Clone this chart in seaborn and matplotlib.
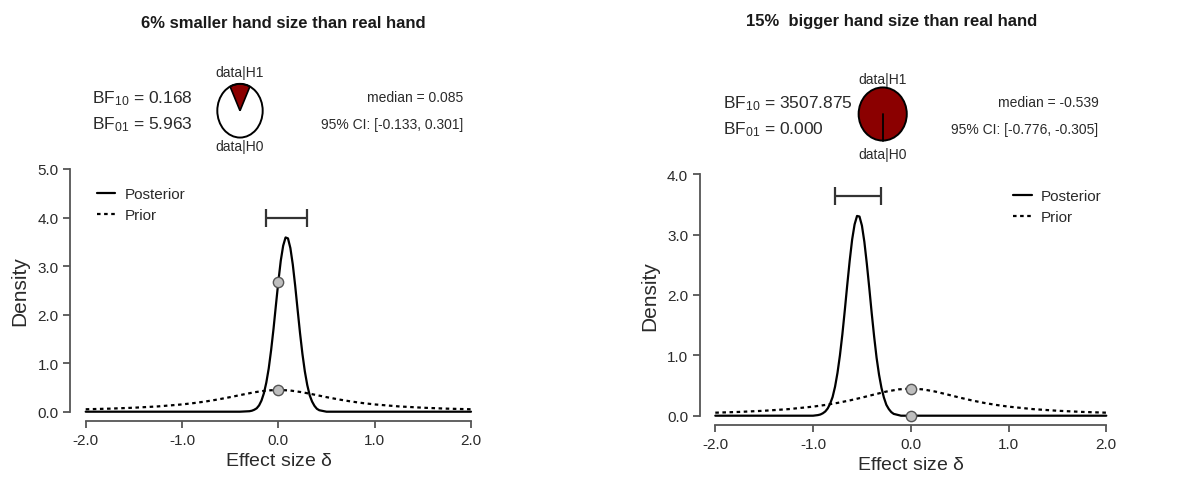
import numpy as np
import pandas as pd
import matplotlib
matplotlib.use("Agg")
import matplotlib.pyplot as plt
import seaborn as sns
from matplotlib.patches import Wedge, Ellipse

# ---------------- data ----------------
titles = ["6% smaller hand size than real hand", "15%  bigger hand size than real hand"]

# prior (same in both panels)
prior_x = [-2.0, -1.75, -1.5, -1.25, -1.0, -0.875, -0.75, -0.625, -0.5, -0.375, -0.25, -0.125,
           0.0, 0.125, 0.25, 0.375, 0.5, 0.625, 0.75, 0.875, 1.0, 1.25, 1.5, 1.75, 2.0]
prior_y = [0.050, 0.063, 0.082, 0.109, 0.150, 0.178, 0.212, 0.253, 0.300, 0.351, 0.400, 0.436,
           0.450, 0.436, 0.400, 0.351, 0.300, 0.253, 0.212, 0.178, 0.150, 0.109, 0.082, 0.063, 0.050]

# panel 1 posterior
post1_x = [-2.0, -0.4, -0.3, -0.275, -0.25, -0.225, -0.2, -0.175, -0.15, -0.125, -0.1, -0.075,
           -0.05, -0.025, 0.0, 0.025, 0.05, 0.075, 0.1, 0.125, 0.15, 0.175, 0.2, 0.225, 0.25,
           0.275, 0.3, 0.325, 0.35, 0.375, 0.4, 0.425, 0.45, 0.5, 0.6, 2.0]
post1_y = [0.0, 0.0, 0.01, 0.02, 0.04, 0.07, 0.13, 0.23, 0.38, 0.60, 0.89, 1.27,
           1.71, 2.20, 2.68, 3.11, 3.42, 3.59, 3.57, 3.37, 3.03, 2.59, 2.10, 1.62, 1.19,
           0.83, 0.55, 0.34, 0.21, 0.12, 0.06, 0.03, 0.02, 0.0, 0.0, 0.0]

# panel 2 posterior
post2_x = [-2.0, -1.0, -0.95, -0.925, -0.9, -0.875, -0.85, -0.825, -0.8, -0.775, -0.75, -0.725,
           -0.7, -0.675, -0.65, -0.625, -0.6, -0.575, -0.55, -0.525, -0.5, -0.475, -0.45,
           -0.425, -0.4, -0.375, -0.35, -0.325, -0.3, -0.275, -0.25, -0.225, -0.2, -0.175,
           -0.15, -0.1, 0.0, 2.0]
post2_y = [0.0, 0.0, 0.01, 0.02, 0.04, 0.07, 0.12, 0.20, 0.31, 0.48, 0.71, 1.00,
           1.35, 1.75, 2.17, 2.57, 2.92, 3.17, 3.31, 3.30, 3.15, 2.88, 2.52,
           2.12, 1.70, 1.31, 0.96, 0.68, 0.46, 0.30, 0.18, 0.11, 0.06, 0.03,
           0.02, 0.0, 0.0, 0.0]

bf10 = ["0.168", "3507.875"]
bf01 = ["5.963", "0.000"]
pie_h1 = [0.168 / 1.168, 1.0]
medians = ["0.085", "-0.539"]
ci_text = ["[-0.133, 0.301]", "[-0.776, -0.305]"]
ci_lo = [-0.133, -0.776]
ci_hi = [0.301, -0.305]
ci_y = [4.0, 3.64]
pt1_x = [0.0, 0.0]
pt1_y = [2.68, 0.45]
pt2_x = [0.0, 0.0]
pt2_y = [0.45, 0.0]
y_max = [5.0, 4.0]

# ---------------- figure ----------------
sns.set_theme(style="ticks")
plt.rcParams['font.family'] = ['Liberation Sans', 'DejaVu Sans']
plt.rcParams['mathtext.fontset'] = 'custom'
plt.rcParams['mathtext.rm'] = 'Liberation Sans'
plt.rcParams['mathtext.it'] = 'Liberation Sans'

txt = '#2a2a2a'
spine_c = '#555555'

fig = plt.figure(figsize=(11.91, 4.85), dpi=100)
W, H = 1191.0, 485.0

# axes boxes in pixels: left, right, top(ymax), bottom(y0)
boxes = [(85.7, 471.0, 170.0, 412.7), (715.3, 1106.3, 175.3, 416.7)]
posts = [(post1_x, post1_y), (post2_x, post2_y)]
points = [(pt1_x, pt1_y), (pt2_x, pt2_y)]
leg_anchor = [(-0.018, 1.0), (1.035, 1.015)]
leg_loc = ['upper left', 'upper right']

for i in range(2):
    l, r, t, b = boxes[i]
    ax = fig.add_axes([l / W, 1 - b / H, (r - l) / W, (b - t) / H])

    df = pd.concat([
        pd.DataFrame({'x': posts[i][0], 'y': posts[i][1], 'kind': 'Posterior'}),
        pd.DataFrame({'x': prior_x, 'y': prior_y, 'kind': 'Prior'}),
    ])
    sns.lineplot(data=df, x='x', y='y', style='kind', ax=ax, color='black', lw=1.6,
                 dashes={'Posterior': '', 'Prior': (1.6, 1.6)}, sort=False, estimator=None,
                 clip_on=False)

    # CI bar
    ax.errorbar([(ci_lo[i] + ci_hi[i]) / 2], [ci_y[i]],
                xerr=[[(ci_hi[i] - ci_lo[i]) / 2], [(ci_hi[i] - ci_lo[i]) / 2]],
                fmt='none', ecolor='#333333', elinewidth=1.6, capsize=6.5, capthick=1.6)

    px, py = points[i]
    ax.scatter(px, py, s=55, facecolor='#BEBEBE', edgecolor='#555555', linewidth=1.0,
               zorder=5, clip_on=False)

    ax.set_xlim(-2, 2)
    ax.set_ylim(0, y_max[i])
    ax.set_xticks([-2, -1, 0, 1, 2])
    ax.set_xticklabels(['-2.0', '-1.0', '0.0', '1.0', '2.0'])
    yt = np.arange(0, y_max[i] + 0.5, 1.0)
    ax.set_yticks(yt)
    ax.set_yticklabels(['%.1f' % v for v in yt])
    ax.tick_params(labelsize=11, colors=spine_c, labelcolor=txt, length=5, width=1.3)
    sns.despine(ax=ax)
    ax.spines['left'].set_position(('outward', 11))
    ax.spines['bottom'].set_position(('outward', 6.5))
    for s in ['left', 'bottom']:
        ax.spines[s].set_color(spine_c)
        ax.spines[s].set_linewidth(1.3)
    ax.set_xlabel('Effect size $\\delta$', fontsize=14, color=txt, labelpad=4)
    ax.set_ylabel('Density', fontsize=15, color=txt, labelpad=6)

    leg = ax.legend(frameon=False, loc=leg_loc[i], bbox_to_anchor=leg_anchor[i],
                    fontsize=11, handlelength=1.2, handletextpad=0.6, labelspacing=0.45,
                    borderaxespad=0.8)
    for tx in leg.get_texts():
        tx.set_color(txt)

# ---------------- header texts ----------------
title_pos = [(283, 23), (891.7, 21.7)]
bf_x = [91.7, 723.3]
bf_y = [(98.3, 125.0), (103.3, 130.0)]
pie_c = [(240.0, 111.7), (882.7, 115.0)]
pie_r = [(22.5, 27.0), (24.0, 26.7)]
lab_y = [(73.3, 146.7), (80.0, 155.0)]
med_x = [463.3, 1098.3]

for i in range(2):
    fig.text(title_pos[i][0] / W, 1 - title_pos[i][1] / H, titles[i], ha='center', va='center',
             fontsize=12, fontweight='bold', color='#1a1a1a')
    fig.text(bf_x[i] / W, 1 - bf_y[i][0] / H, 'BF$_{10}$ = ' + bf10[i], ha='left', va='center',
             fontsize=12.5, color=txt)
    fig.text(bf_x[i] / W, 1 - bf_y[i][1] / H, 'BF$_{01}$ = ' + bf01[i], ha='left', va='center',
             fontsize=12.5, color=txt)
    fig.text(med_x[i] / W, 1 - bf_y[i][0] / H, 'median = ' + medians[i], ha='right', va='center',
             fontsize=10, color=txt)
    fig.text(med_x[i] / W, 1 - bf_y[i][1] / H, '95% CI: ' + ci_text[i], ha='right', va='center',
             fontsize=10, color=txt)
    cx, cy = pie_c[i]
    fig.text(cx / W, 1 - lab_y[i][0] / H, 'data|H1', ha='center', va='center', fontsize=10, color=txt)
    fig.text(cx / W, 1 - lab_y[i][1] / H, 'data|H0', ha='center', va='center', fontsize=10, color=txt)

    # pie drawn in a small axes (slightly taller than wide, as in the picture)
    rx, ry = pie_r[i]
    pax = fig.add_axes([(cx - rx - 2) / W, 1 - (cy + ry + 2) / H, (2 * rx + 4) / W, (2 * ry + 4) / H])
    pax.set_xlim(-1.08, 1.08)
    pax.set_ylim(-1.08, 1.08)
    pax.axis('off')
    frac = pie_h1[i]
    if frac < 1:
        pax.add_patch(Ellipse((0, 0), 2, 2, facecolor='white', edgecolor='none'))
        pax.add_patch(Wedge((0, 0), 1, 90 - 180 * frac, 90 + 180 * frac, facecolor='darkred',
                            edgecolor='black', lw=1.2))
    else:
        pax.add_patch(Ellipse((0, 0), 2, 2, facecolor='darkred', edgecolor='none'))
        pax.plot([0, 0], [0, -1], color='black', lw=1.3)
    pax.add_patch(Ellipse((0, 0), 2, 2, facecolor='none', edgecolor='black', lw=1.4))

fig.savefig('out.png', dpi=100)
